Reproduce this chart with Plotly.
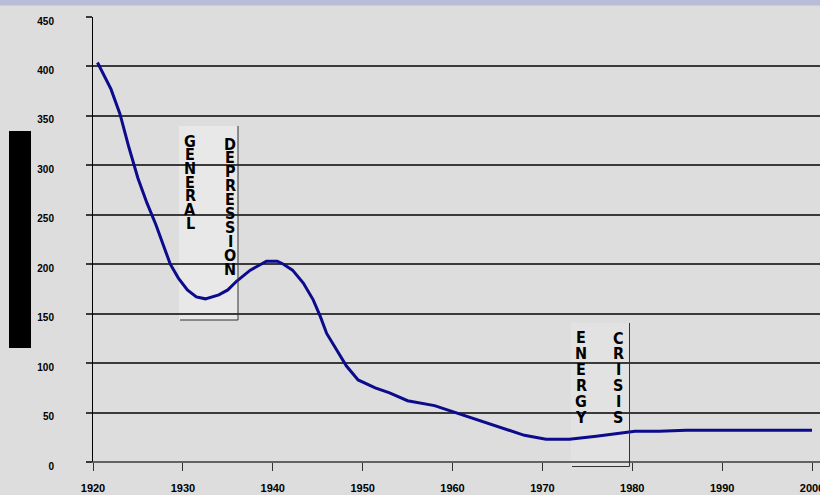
import plotly.graph_objects as go

# curve (year, value)
years = [1920.5, 1922, 1923, 1924, 1925, 1926, 1927, 1928, 1928.6, 1929.5, 1930.5,
         1931.5, 1932.5, 1934, 1935, 1936, 1937.5, 1939.3, 1940.5, 1941.2, 1942.2,
         1943.4, 1944.5, 1945.3, 1946, 1947, 1948.2, 1949.5, 1951.4, 1953, 1955,
         1958, 1960, 1962, 1965, 1968, 1970.4, 1973, 1976, 1978.3, 1980.3, 1983,
         1986, 2000]
values = [404, 377, 352, 318, 287, 262, 240, 215, 200, 186, 174,
          167, 165, 169, 174, 183, 194, 203, 203, 200, 194,
          181, 164, 147, 130, 115, 97, 83, 75, 70, 62,
          57, 51, 45, 36, 27, 23, 23, 26, 29, 31, 31,
          32, 32]

x_ticks = list(range(1920, 2001, 10))
y_ticks = list(range(0, 451, 50))
labels_left = ["GENERAL", "ENERGY"]
labels_right = ["DEPRESSION", "CRISIS"]

W, H = 820, 495
L, R, T, B = 93, 0, 17, 33

# helpers: pixel -> paper coordinates
def pxx(x):
    return (x - L) / (W - L - R)

def pxy(y):
    return (H - B - y) / (H - T - B)

fig = go.Figure()
fig.add_trace(go.Scatter(
    x=years, y=values, mode="lines",
    line=dict(color="#0b0b8c", width=3),
    hoverinfo="skip", showlegend=False,
))

shapes = []
# top strip
shapes.append(dict(type="rect", xref="paper", yref="paper", x0=pxx(0), x1=pxx(W),
                   y0=pxy(5.5), y1=pxy(-2), fillcolor="#b8bcd8", line=dict(width=0)))
# black block on the left
shapes.append(dict(type="rect", xref="paper", yref="paper", x0=pxx(9), x1=pxx(31),
                   y0=pxy(348), y1=pxy(131), fillcolor="black", line=dict(width=0)))
# zero line with the left stub
shapes.append(dict(type="line", xref="paper", yref="paper", x0=pxx(87), x1=1,
                   y0=0, y1=0, line=dict(color="#3a3a3a", width=1.5)))

# annotation boxes (light fill + right and bottom border)
for (x0, x1, y0, y1, fill) in [(179, 238, 126, 320, "#e8e8e8"), (571, 629.5, 323, 466.5, "#e2e2e2")]:
    shapes.append(dict(type="rect", xref="paper", yref="paper", layer="below",
                       x0=pxx(x0), x1=pxx(x1), y0=pxy(y1), y1=pxy(y0),
                       fillcolor=fill, line=dict(width=0)))
    shapes.append(dict(type="line", xref="paper", yref="paper",
                       x0=pxx(x1), x1=pxx(x1), y0=pxy(y0), y1=pxy(y1),
                       line=dict(color="#333333", width=1)))
    shapes.append(dict(type="line", xref="paper", yref="paper",
                       x0=pxx(x0 + 1), x1=pxx(x1), y0=pxy(y1), y1=pxy(y1),
                       line=dict(color="#333333", width=1)))

letter_font = dict(family="DejaVu Sans Condensed, Liberation Sans Narrow, Liberation Sans",
                   size=16, color="black", weight="bold")

def stack(word, xc, ytop, step):
    for i, ch in enumerate(word):
        fig.add_annotation(x=pxx(xc), y=pxy(ytop + step * i), xref="paper", yref="paper",
                           text=ch, showarrow=False, font=letter_font,
                           xanchor="center", yanchor="middle")

stack(labels_left[0], 190, 141, 13.7)
stack(labels_right[0], 230, 144, 13.9)
stack(labels_left[1], 581, 337.5, 15.9)
stack(labels_right[1], 618, 338, 15.8)

fig.update_layout(
    width=W, height=H,
    margin=dict(l=L, r=R, t=T, b=B),
    paper_bgcolor="#dddddd",
    plot_bgcolor="#dddddd",
    shapes=shapes,
    showlegend=False,
    xaxis=dict(
        range=[1920, 2000 + (W - 812) / 8.9875],
        tickvals=x_ticks,
        tickfont=dict(family="Liberation Sans, Arial", size=11, color="black", weight="bold"),
        ticks="outside", ticklen=8, tickcolor="#333333", tickwidth=1,
        ticklabelstandoff=8,
        ticklabeloverflow="allow",
        showgrid=False, zeroline=False,
        showline=False, automargin=False,
    ),
    yaxis=dict(
        range=[0, 450],
        tickvals=y_ticks,
        tickfont=dict(family="Liberation Sans, Arial", size=10, color="black", weight="bold"),
        ticks="outside", ticklen=6, tickcolor="#3a3a3a", tickwidth=1.5,
        ticklabelstandoff=30,
        ticklabelshift=4,
        showgrid=True, gridcolor="#3a3a3a", gridwidth=1.5,
        zeroline=False,
        showline=True, linecolor="black", linewidth=1,
        automargin=False,
    ),
)

# page body has a default 8px margin; drop it so the figure sits at the corner
fig.write_html("out.html", config={"displayModeBar": False},
               post_script="document.body.style.margin='0';document.body.style.background='#dddddd';")
